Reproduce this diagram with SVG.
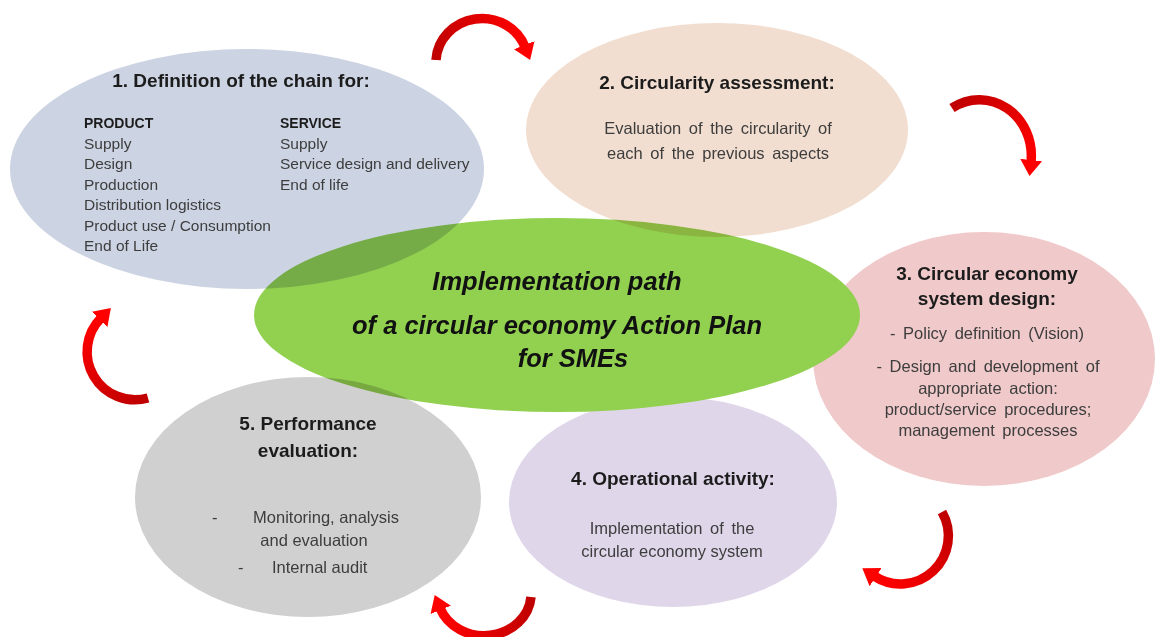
<svg xmlns="http://www.w3.org/2000/svg" width="1157" height="637" viewBox="0 0 1157 637">
<style>
text{font-family:"Liberation Sans",Arial,sans-serif;}
.h{font-weight:bold;fill:#1c1c1c;font-size:19px;}
.h.s{font-size:14px;}
.b{fill:#3d3d3d;}
.c{text-anchor:middle;}
.w{word-spacing:3px;}
.m{text-anchor:middle;font-weight:bold;font-style:italic;fill:#111;font-size:25.5px;}
.mul{mix-blend-mode:multiply;}
.arr{fill:none;stroke-width:9.5;stroke-linecap:butt;marker-end:url(#head);}
</style>
<defs>
<marker id="head" viewBox="0 0 16 22" refX="2" refY="11" markerWidth="16" markerHeight="22" markerUnits="userSpaceOnUse" orient="auto">
<path d="M0,0 L16,11 L0,22 z" fill="#ff0000"/>
</marker>
<linearGradient id="g1" gradientUnits="userSpaceOnUse" x1="436" y1="60" x2="525" y2="47"><stop offset="0" stop-color="#c00000"/><stop offset="1" stop-color="#ff0000"/></linearGradient>
<linearGradient id="g2" gradientUnits="userSpaceOnUse" x1="952" y1="108" x2="1031" y2="162"><stop offset="0" stop-color="#c00000"/><stop offset="1" stop-color="#ff0000"/></linearGradient>
<linearGradient id="g3" gradientUnits="userSpaceOnUse" x1="942" y1="512" x2="874" y2="576"><stop offset="0" stop-color="#c00000"/><stop offset="1" stop-color="#ff0000"/></linearGradient>
<linearGradient id="g4" gradientUnits="userSpaceOnUse" x1="531" y1="597" x2="440" y2="608"><stop offset="0" stop-color="#c00000"/><stop offset="1" stop-color="#ff0000"/></linearGradient>
<linearGradient id="g5" gradientUnits="userSpaceOnUse" x1="148" y1="398" x2="101" y2="318"><stop offset="0" stop-color="#c00000"/><stop offset="1" stop-color="#ff0000"/></linearGradient>
</defs>
<rect width="1157" height="637" fill="#ffffff"/>

<g id="node3">
<ellipse cx="984" cy="359" rx="171" ry="127" fill="#f0c9ca"/>
<text class="h c" x="987" y="280">3. Circular economy</text>
<text class="h c" x="987" y="305">system design:</text>
<text class="b c w" font-size="16.5" x="987" y="339">- Policy definition (Vision)</text>
<text class="b c w" font-size="16.5" x="988" y="372">- Design and development of</text>
<text class="b c w" font-size="16.5" x="988" y="394">appropriate action:</text>
<text class="b c w" font-size="16.5" x="988" y="415">product/service procedures;</text>
<text class="b c w" font-size="16.5" x="988" y="436">management processes</text>
</g>

<g id="node4">
<ellipse cx="673" cy="502" rx="164" ry="105" fill="#e0d6ea"/>
<text class="h c" x="673" y="485">4. Operational activity:</text>
<text class="b c w" font-size="16.5" x="672" y="534">Implementation of the</text>
<text class="b c" font-size="16.5" x="672" y="557">circular economy system</text>
</g>

<g id="center">
<ellipse cx="557" cy="315" rx="303" ry="97" fill="#92d050"/>
<text class="m" x="557" y="290">Implementation path</text>
<text class="m" x="557" y="334">of a circular economy Action Plan</text>
<text class="m" x="573" y="367">for SMEs</text>
</g>

<g id="node1">
<ellipse class="mul" cx="247" cy="169" rx="237" ry="120" fill="#ccd3e2"/>
<text class="h c" x="241" y="87">1. Definition of the chain for:</text>
<text class="h s" x="84" y="128">PRODUCT</text>
<text class="b" font-size="15.5" x="84" y="148.5">Supply</text>
<text class="b" font-size="15.5" x="84" y="169">Design</text>
<text class="b" font-size="15.5" x="84" y="189.5">Production</text>
<text class="b" font-size="15.5" x="84" y="210">Distribution logistics</text>
<text class="b" font-size="15.5" x="84" y="230.5">Product use / Consumption</text>
<text class="b" font-size="15.5" x="84" y="251">End of Life</text>
<text class="h s" x="280" y="128">SERVICE</text>
<text class="b" font-size="15.5" x="280" y="148.5">Supply</text>
<text class="b" font-size="15.5" x="280" y="169">Service design and delivery</text>
<text class="b" font-size="15.5" x="280" y="189.5">End of life</text>
</g>

<g id="node2">
<ellipse class="mul" cx="717" cy="130" rx="191" ry="107" fill="#f2ded0"/>
<text class="h c" x="717" y="89">2. Circularity assessment:</text>
<text class="b c w" font-size="16.5" x="718" y="134">Evaluation of the circularity of</text>
<text class="b c w" font-size="16.5" x="718" y="159">each of the previous aspects</text>
</g>

<g id="node5">
<ellipse class="mul" cx="308" cy="497" rx="173" ry="120" fill="#d1d0d0"/>
<text class="h c" x="308" y="430">5. Performance</text>
<text class="h c" x="308" y="457">evaluation:</text>
<text class="b" font-size="16.5" x="212" y="523">-</text>
<text class="b c" font-size="16.5" x="326" y="523">Monitoring, analysis</text>
<text class="b c" font-size="16.5" x="314" y="546">and evaluation</text>
<text class="b" font-size="16.5" x="238" y="573">-</text>
<text class="b" font-size="16.5" x="272" y="573">Internal audit</text>
</g>

<g id="connectors">
<path class="arr" stroke="url(#g1)" d="M436 60 A46 44 0 0 1 525 47"/>
<path class="arr" stroke="url(#g2)" d="M952 108 A52 56 0 0 1 1031 162"/>
<path class="arr" stroke="url(#g3)" d="M942 512 A48 48 0 0 1 874 576"/>
<path class="arr" stroke="url(#g4)" d="M531 597 A47 42 0 0 1 440 608"/>
<path class="arr" stroke="url(#g5)" d="M148 398 A48 48 0 0 1 101 318"/>
</g>
</svg>
